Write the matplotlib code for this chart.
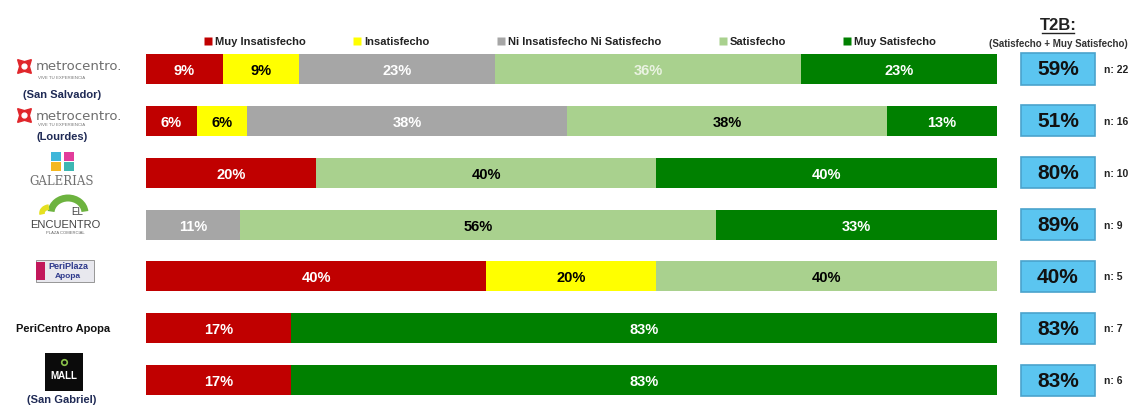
import matplotlib.pyplot as plt
import numpy as np
from matplotlib.patches import Rectangle, Arc

plt.rcParams['font.family'] = ['Liberation Sans', 'DejaVu Sans']

# datos
centros = ['Metrocentro San Salvador', 'Metrocentro Lourdes', 'Galerias',
           'El Encuentro', 'PeriPlaza Apopa', 'PeriCentro Apopa', 'Mall San Gabriel']
niveles = ['Muy Insatisfecho', 'Insatisfecho', 'Ni Insatisfecho Ni Satisfecho',
           'Satisfecho', 'Muy Satisfecho']
muy_insat = [9, 6, 20, 0, 40, 17, 17]
insat = [9, 6, 0, 0, 20, 0, 0]
neutro = [23, 38, 0, 11, 0, 0, 0]
satisf = [36, 38, 40, 56, 40, 0, 0]
muy_satisf = [23, 13, 40, 33, 0, 83, 83]
t2b = [59, 51, 80, 89, 40, 83, 83]
n_muestra = [22, 16, 10, 9, 5, 7, 6]

colores = ['#C00000', '#FFFF00', '#A6A6A6', '#A9D18E', '#008000']
col_texto = ['white', 'black', 'white', 'black', 'white']

fig = plt.figure(figsize=(11.32, 4.06), dpi=100)
ax = fig.add_axes([0, 0, 1, 1])
ax.set_xlim(-17.16, 115.9)
ax.set_ylim(6.48, -1.35)
ax.axis('off')

series = np.array([muy_insat, insat, neutro, satisf, muy_satisf], dtype=float)
totales = series.sum(axis=0)
y = np.arange(len(centros))
izq = np.zeros(len(centros))
for k in range(5):
    ancho = series[k] / totales * 100
    ax.barh(y, ancho, left=izq, height=0.58, color=colores[k], edgecolor='none')
    for i in range(len(centros)):
        if series[k, i] > 0:
            c = col_texto[k]
            if k == 3 and i == 0:
                c = '#EAF3E2'
            ax.text(izq[i] + ancho[i] / 2, y[i] + 0.02, '%d%%' % series[k, i],
                    ha='center', va='center', fontsize=10.5, fontweight='bold', color=c)
    izq += ancho

# cajas T2B
for i in range(len(centros)):
    ax.add_patch(Rectangle((102.8, y[i] - 0.3), 8.8, 0.6, facecolor='#5BC5F0',
                           edgecolor='#4AA3CC', lw=1.2))
    ax.text(107.2, y[i], '%d%%' % t2b[i], ha='center', va='center',
            fontsize=15, fontweight='bold', color='#111111')
    ax.text(112.6, y[i], 'n: %d' % n_muestra[i], ha='left', va='center',
            fontsize=7.5, fontweight='bold', color='#222222')

# capa de decoracion en pixeles
deco = fig.add_axes([0, 0, 1, 1], facecolor='none')
deco.set_xlim(0, 1132)
deco.set_ylim(406, 0)
deco.axis('off')

# leyenda
leg_x = [208, 357, 501, 723, 847]
for k in range(5):
    deco.plot(leg_x[k], 42, marker='s', ms=6, color=colores[k], mec='none')
    deco.text(leg_x[k] + 7, 42, niveles[k], ha='left', va='center', fontsize=8,
              fontweight='bold', color='#222222')

# encabezado T2B
deco.text(1058, 26, 'T2B:', ha='center', va='center', fontsize=12, fontweight='bold',
          color='#222222')
deco.plot([1042, 1074], [34, 34], color='#222222', lw=1)
deco.text(1058, 44, '(Satisfecho + Muy Satisfecho)', ha='center', va='center',
          fontsize=7, fontweight='bold', color='#333333')

# logos aproximados
navy = '#1F2A55'
for yc, tag, sub, ysub in [(67, 78, '(San Salvador)', 95), (116, 125, '(Lourdes)', 137)]:
    deco.plot(24, yc, marker=(4, 1, 45), ms=14, color='#E0262B')
    deco.plot(24, yc, marker='o', ms=3.5, color='white')
    deco.text(36, yc, 'metrocentro.', ha='left', va='center', fontsize=9.5,
              color='#6E6E6E', family=['DejaVu Sans'])
    deco.text(38, tag, 'VIVE TU EXPERIENCIA', ha='left', va='center', fontsize=3.2,
              color='#777777')
    deco.text(62, ysub, sub, ha='center', va='center', fontsize=8,
              fontweight='bold', color=navy)

# galerias
for (sx, sy, c) in [(56, 157, '#3FB6D9'), (69, 157, '#E23C9B'), (56, 167, '#F5B820'),
                    (69, 167, '#3DB7B3')]:
    deco.add_patch(Rectangle((sx - 5, sy - 4.5), 10, 9, facecolor=c, edgecolor='none'))
deco.text(62, 182, 'GALERIAS', ha='center', va='center', fontsize=8.5,
          color='#707070', family=['DejaVu Serif'])

# el encuentro (eje y invertido: el arco superior va de 180 a 360)
deco.add_patch(Arc((68, 214), 34, 30, theta1=185, theta2=355, lw=5, color='#6DB33F'))
deco.add_patch(Arc((50, 214), 16, 12, theta1=170, theta2=260, lw=4, color='#E5E020'))
deco.text(77, 212, 'EL', ha='center', va='center', fontsize=7, color='#444444')
deco.text(65, 225, 'ENCUENTRO', ha='center', va='center', fontsize=8, color='#444444')
deco.text(65, 233, 'PLAZA COMERCIAL', ha='center', va='center', fontsize=3,
          color='#666666')

# periplaza
deco.add_patch(Rectangle((36, 261), 58, 22, facecolor='#E8E8EE', edgecolor='#888888',
                         lw=0.6))
deco.add_patch(Rectangle((36, 263), 9, 18, facecolor='#C2185B', edgecolor='none'))
deco.text(68, 267, 'PeriPlaza', ha='center', va='center', fontsize=6.5,
          fontweight='bold', color='#2E3A8C')
deco.text(68, 277, 'Apopa', ha='center', va='center', fontsize=6,
          fontweight='bold', color='#2E3A8C')

# pericentro
deco.text(63, 329, 'PeriCentro Apopa', ha='center', va='center', fontsize=8,
          fontweight='bold', color='#111111')

# mall san gabriel
deco.add_patch(Rectangle((45, 354), 38, 38, facecolor='#0B0B0B', edgecolor='none'))
deco.plot(64, 363, marker='o', ms=4, mfc='none', mec='#8BC34A', mew=1.2)
deco.text(64, 376, 'MALL', ha='center', va='center', fontsize=7, fontweight='bold',
          color='white')
deco.text(62, 400, '(San Gabriel)', ha='center', va='center', fontsize=8,
          fontweight='bold', color=navy)

fig.savefig('out.png', dpi=100)
